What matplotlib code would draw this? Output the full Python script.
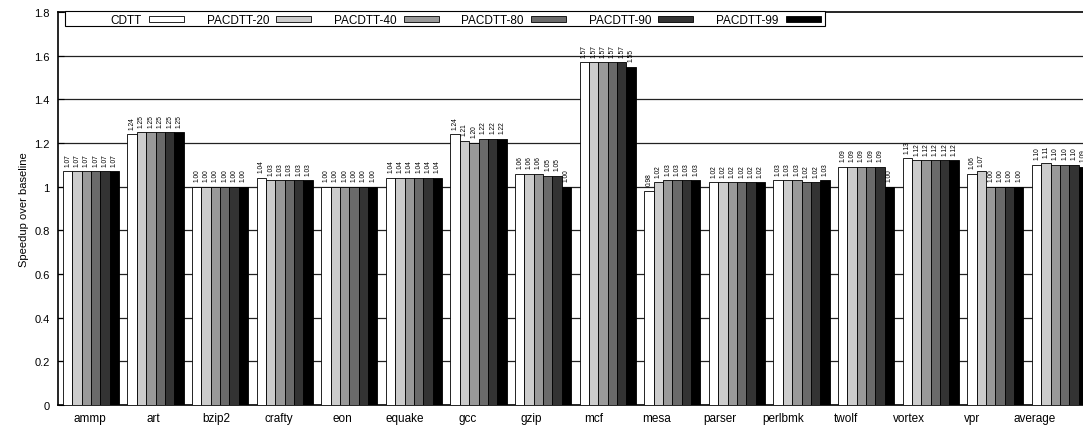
import matplotlib
import numpy as np

matplotlib.use("Agg")

from matplotlib import pyplot as plt  # noqa: E402
from matplotlib.patches import Rectangle  # noqa: E402

plt.rcParams["font.family"] = ["Liberation Sans", "DejaVu Sans"]

benchmarks = ["ammp", "art", "bzip2", "crafty", "eon", "equake", "gcc", "gzip",
              "mcf", "mesa", "parser", "perlbmk", "twolf", "vortex", "vpr", "average"]
series_names = ["CDTT", "PACDTT-20", "PACDTT-40", "PACDTT-80", "PACDTT-90", "PACDTT-99"]

cdtt = [1.07, 1.24, 1.00, 1.04, 1.00, 1.04, 1.24, 1.06, 1.57, 0.98, 1.02, 1.03, 1.09, 1.13, 1.06, 1.10]
pacdtt_20 = [1.07, 1.25, 1.00, 1.03, 1.00, 1.04, 1.21, 1.06, 1.57, 1.02, 1.02, 1.03, 1.09, 1.12, 1.07, 1.11]
pacdtt_40 = [1.07, 1.25, 1.00, 1.03, 1.00, 1.04, 1.20, 1.06, 1.57, 1.03, 1.02, 1.03, 1.09, 1.12, 1.00, 1.10]
pacdtt_80 = [1.07, 1.25, 1.00, 1.03, 1.00, 1.04, 1.22, 1.05, 1.57, 1.03, 1.02, 1.02, 1.09, 1.12, 1.00, 1.10]
pacdtt_90 = [1.07, 1.25, 1.00, 1.03, 1.00, 1.04, 1.22, 1.05, 1.57, 1.03, 1.02, 1.02, 1.09, 1.12, 1.00, 1.10]
pacdtt_99 = [1.07, 1.25, 1.00, 1.03, 1.00, 1.04, 1.22, 1.00, 1.55, 1.03, 1.02, 1.03, 1.00, 1.12, 1.00, 1.09]

series = [cdtt, pacdtt_20, pacdtt_40, pacdtt_80, pacdtt_90, pacdtt_99]
colors = ["#ffffff", "#cccccc", "#999999", "#6a6a6a", "#333333", "#000000"]

W, H = 1083, 427
fig = plt.figure(figsize=(W / 100, H / 100), dpi=100)
left_px, right_px, top_px, bottom_px = 58, 1090, 13, 406
ax = fig.add_axes([left_px / W, 1 - bottom_px / H,
                   (right_px - left_px) / W, (bottom_px - top_px) / H])


def fx(px):
    return px / W


def fy(py):
    return 1 - py / H


group_px = 64.6
bar_w = 9.35 / group_px
x = np.arange(len(benchmarks))
n = len(series)

for k, (name, vals, col) in enumerate(zip(series_names, series, colors)):
    pos = x + (k - (n - 1) / 2) * bar_w
    bars = ax.bar(pos, vals, width=bar_w, color=col, edgecolor="black",
                  linewidth=0.6, label=name, zorder=3)
    for b, v in zip(bars, vals):
        ax.annotate(f"{v:.2f}", (b.get_x() + b.get_width() / 2, b.get_height()),
                    xytext=(0, 4), textcoords="offset points", rotation=90,
                    ha="center", va="bottom", fontsize=4.8, zorder=4)

ax.set_xlim(-0.51, -0.51 + (right_px - left_px) / group_px)
ax.set_ylim(0, 1.8)
ax.set_yticks(np.arange(0, 1.81, 0.2))
ax.set_yticklabels(["0", "0.2", "0.4", "0.6", "0.8", "1", "1.2", "1.4", "1.6", "1.8"])
ax.set_ylabel("Speedup over baseline", fontsize=8)

# category labels sit slightly left of the bar groups, as in the original
ax.set_xticks(x * (63.0 / group_px) - 1.0 / group_px)
ax.set_xticklabels(benchmarks)
ax.tick_params(axis="x", length=0, labelsize=8.5, pad=5)
ax.tick_params(axis="y", direction="in", length=4, labelsize=8, pad=6)

for yv in np.arange(0.2, 1.61, 0.2):
    ax.axhline(yv, color="#222222", linewidth=0.9, zorder=1)

for side in ["left", "bottom", "top"]:
    ax.spines[side].set_linewidth(1.2)
ax.spines["right"].set_visible(False)

# gnuplot-style key: fixed-width columns, right-aligned text, swatch after it
fig.patches.append(Rectangle((fx(65), fy(27)), fx(825 - 65), fy(12) - fy(27),
                             transform=fig.transFigure, facecolor="white",
                             edgecolor="black", linewidth=0.8, zorder=5))
col_px = 127.3
for k, (name, col) in enumerate(zip(series_names, colors)):
    sw_left = 149 + k * col_px
    fig.patches.append(Rectangle((fx(sw_left), fy(23)), fx(35), fy(17) - fy(23),
                                 transform=fig.transFigure, facecolor=col,
                                 edgecolor="black", linewidth=0.6, zorder=6))
    fig.text(fx(sw_left - 7), fy(21.5), name, ha="right", va="center",
             fontsize=8.5, zorder=7)

fig.savefig("out.png", dpi=100)
